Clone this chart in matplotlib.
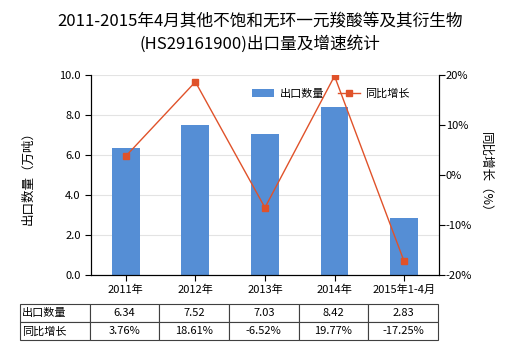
import matplotlib
matplotlib.use('Agg')
import matplotlib.pyplot as plt
from matplotlib.ticker import FuncFormatter

plt.rcParams['font.family'] = ['Noto Sans CJK SC', 'DejaVu Sans']

# data
years = ['2011年', '2012年', '2013年', '2014年', '2015年1-4月']
export_qty = [6.34, 7.52, 7.03, 8.42, 2.83]      # 万吨
growth = [3.76, 18.61, -6.52, 19.77, -17.25]     # %

bar_color = '#558ED5'
line_color = '#E0522A'

fig = plt.figure(figsize=(5.2, 3.5), dpi=100)
ax = fig.add_axes([0.175, 0.214, 0.669, 0.572])
x = list(range(len(years)))

bars = ax.bar(x, export_qty, width=0.4, color=bar_color, label='出口数量', zorder=2)
ax.set_ylim(0, 10)
ax.set_yticks([0, 2, 4, 6, 8, 10])
ax.yaxis.set_major_formatter(FuncFormatter(lambda v, p: f'{v:.1f}'))
ax.set_xlim(-0.5, len(years) - 0.5)
ax.set_xticks(x)
ax.set_xticklabels(years, fontsize=8)
ax.tick_params(axis='y', labelsize=8, direction='out', length=4)
ax.tick_params(axis='x', direction='out', length=4, pad=3)
ax.grid(axis='y', color='#E3E3E3', linewidth=0.8, zorder=0)
ax.set_axisbelow(True)
ax.spines['top'].set_visible(False)
ax.set_ylabel('出口数量（万吨）', fontsize=9, labelpad=18)

ax2 = ax.twinx()
ln, = ax2.plot(x, growth, color=line_color, linewidth=1, marker='s',
               markersize=5, label='同比增长', zorder=3)
ax2.set_ylim(-20, 20)
ax2.set_yticks([-20, -10, 0, 10, 20])
ax2.yaxis.set_major_formatter(FuncFormatter(lambda v, p: f'{v:.0f}%'))
ax2.tick_params(axis='y', labelsize=8, direction='out', length=4, pad=1)
ax2.spines['top'].set_visible(False)
ax2.set_ylabel('同比增长（%）', fontsize=9, rotation=-90, labelpad=14)

ax.legend([bars, ln], ['出口数量', '同比增长'], loc='center', ncol=2,
          bbox_to_anchor=(0.69, 0.905), frameon=False, fontsize=8,
          handlelength=2.0, columnspacing=1.2, handletextpad=0.5)

# table under the chart
cells = [['出口数量'] + [f'{v:.2f}' for v in export_qty],
         ['同比增长'] + [f'{v:.2f}%' for v in growth]]
tbl = ax.table(cellText=cells, cellLoc='center', colWidths=[1 / 6] * 6,
               bbox=[-0.204, -0.325, 1.201, 0.18])
tbl.auto_set_font_size(False)
tbl.set_fontsize(8)
for (r, c), cell in tbl.get_celld().items():
    cell.set_edgecolor('#404040')
    cell.set_linewidth(0.8)
    if c == 0:
        cell.PAD = 0.03
        cell.get_text().set_ha('left')

fig.text(0.5, 0.906, '2011-2015年4月其他不饱和无环一元羧酸等及其衍生物\n(HS29161900)出口量及增速统计',
         ha='center', va='center', fontsize=12, linespacing=1.35)

fig.savefig('out.png', dpi=100)
